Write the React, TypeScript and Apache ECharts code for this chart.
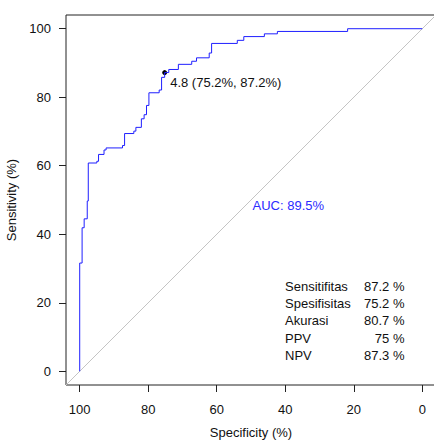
import React, { useEffect, useRef } from "react";
import * as echarts from "echarts";

// ROC curve vertices (specificity %, sensitivity %)
const specificity = [
  100, 100, 99.3, 99.3, 98.7, 98.7, 97.8, 97.8, 97.5, 97.5, 95.0, 95.0, 94.5, 94.5,
  92.9, 92.9, 92.3, 92.3, 87.5, 87.5, 86.9, 86.9, 84.2, 84.2, 83.6, 83.6, 82.0, 82.0,
  81.2, 81.2, 80.5, 80.5, 79.8, 79.8, 76.8, 76.8, 76.1, 76.1, 75.2, 75.2, 74.0, 74.0,
  71.2, 71.2, 67.3, 67.3, 65.9, 65.9, 62.2, 62.2, 61.5, 61.5, 54.0, 54.0, 52.1, 52.1,
  46.1, 46.1, 42.3, 42.3, 21.8, 21.8, 0,
];
const sensitivity = [
  0, 31.6, 31.6, 41.9, 41.9, 44.5, 44.5, 49.7, 49.7, 60.8, 60.8, 61.3, 61.3, 63.3,
  63.3, 64.6, 64.6, 65.2, 65.2, 65.9, 65.9, 69.4, 69.4, 70.1, 70.1, 71.2, 71.2, 73.7,
  73.7, 74.9, 74.9, 77.6, 77.6, 81.3, 81.3, 82.1, 82.1, 85.8, 85.8, 87.2, 87.2, 88.1,
  88.1, 89.6, 89.6, 90.5, 90.5, 91.5, 91.5, 92.9, 92.9, 95.7, 95.7, 96.6, 96.6, 97.7,
  97.7, 98.5, 98.5, 99.2, 99.2, 100, 100,
];
const diagonal = [
  [104, -4],
  [-4, 104],
];
const bestPoint = [75.2, 87.2];
const bestLabel = "4.8 (75.2%, 87.2%)";
const aucText = "AUC: 89.5%";
const tickValues = [0, 20, 40, 60, 80, 100];
const statLabels = ["Sensitifitas", "Spesifisitas", "Akurasi", "PPV", "NPV"];
const statValues = ["87.2 %", "75.2 %", "80.7 %", "75 %", "87.3 %"];

const FONT = "'Liberation Sans', Arial, sans-serif";
const TEXT = "#111";

export default function App() {
  const ref = useRef<HTMLDivElement>(null);
  useEffect(() => {
    if (!ref.current) return;
    const chart = echarts.init(ref.current, undefined, { renderer: "svg" });
    const curve = specificity.map((s, i) => [s, sensitivity[i]]);
    const graphics: any[] = [];
    statLabels.forEach((l, i) => {
      const y = 286.7 + i * 17.1;
      graphics.push({
        type: "text",
        x: 285,
        y,
        style: { text: l, fill: TEXT, fontSize: 13, fontFamily: FONT, align: "left", verticalAlign: "middle" },
      });
      graphics.push({
        type: "text",
        x: 404.5,
        y,
        style: { text: statValues[i], fill: TEXT, fontSize: 13, fontFamily: FONT, align: "right", verticalAlign: "middle" },
      });
    });
    graphics.push({
      type: "text",
      x: 252.5,
      y: 205,
      style: { text: aucText, fill: "#2b2bff", fontSize: 13, fontFamily: FONT, align: "left", verticalAlign: "middle" },
    });
    chart.setOption({
      animation: false,
      grid: {
        left: 66,
        top: 15,
        width: 370,
        height: 370,
        show: true,
        borderColor: "#222",
        borderWidth: 1,
        containLabel: false,
        outerBoundsMode: "none",
      },
      xAxis: {
        type: "value",
        min: -4,
        max: 104,
        inverse: true,
        position: "bottom",
        axisLine: { show: false, onZero: false },
        splitLine: { show: false },
        axisTick: { show: true, length: 7, inside: false, customValues: tickValues, lineStyle: { color: "#222" } },
        axisLabel: { customValues: tickValues, color: TEXT, fontSize: 13, fontFamily: FONT, margin: 18 },
        name: "Specificity (%)",
        nameLocation: "middle",
        nameGap: 41,
        nameTextStyle: { color: TEXT, fontSize: 13, fontFamily: FONT },
      },
      yAxis: {
        type: "value",
        min: -4,
        max: 104,
        position: "left",
        axisLine: { show: false, onZero: false },
        splitLine: { show: false },
        axisTick: { show: true, length: 7, inside: false, customValues: tickValues, lineStyle: { color: "#222" } },
        axisLabel: { customValues: tickValues, color: TEXT, fontSize: 13, fontFamily: FONT, margin: 15 },
        name: "Sensitivity (%)",
        nameLocation: "middle",
        nameGap: 36,
        nameTextStyle: { color: TEXT, fontSize: 13, fontFamily: FONT },
      },
      graphic: graphics,
      series: [
        {
          type: "line",
          data: diagonal,
          symbol: "none",
          silent: true,
          lineStyle: { color: "#c4c4c4", width: 1 },
        },
        {
          type: "line",
          data: curve,
          symbol: "none",
          silent: true,
          lineStyle: { color: "#1f1fff", width: 1 },
        },
        {
          type: "scatter",
          data: [bestPoint],
          symbol: "circle",
          symbolSize: 5,
          silent: true,
          itemStyle: { color: "#000", opacity: 1 },
          label: {
            show: true,
            position: "right",
            distance: 3,
            offset: [0, 10],
            formatter: bestLabel,
            color: TEXT,
            opacity: 1,
            fontSize: 13,
            fontFamily: FONT,
          },
        },
      ],
    });
    return () => chart.dispose();
  }, []);
  return (
    <div
      ref={ref}
      style={{ position: "absolute", left: 0, top: 0, width: 434, height: 441, background: "#fff" }}
    />
  );
}
